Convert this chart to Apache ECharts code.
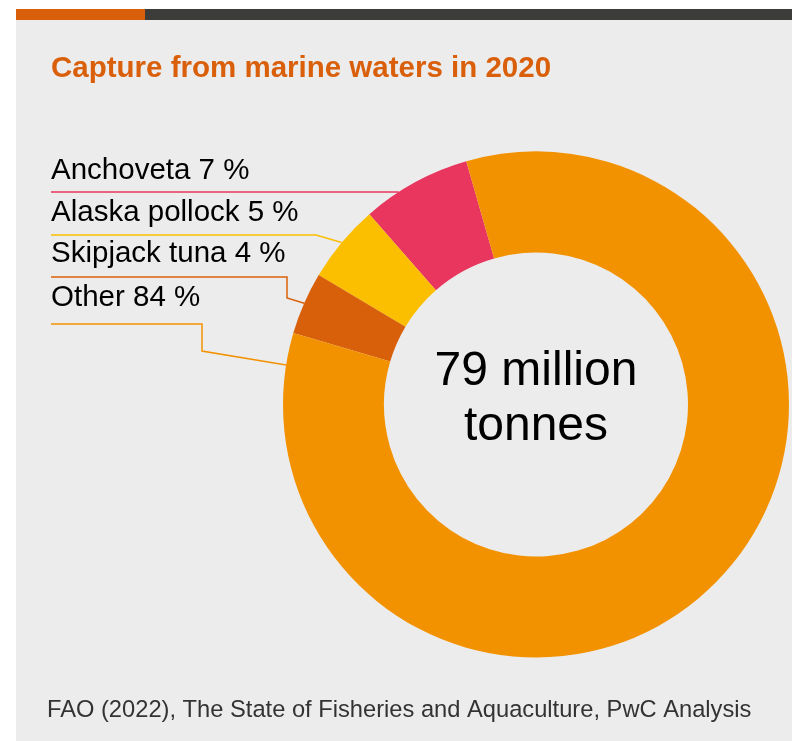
<!DOCTYPE html>
<html>
<head>
<meta charset="utf-8">
<script src="https://cdn.jsdelivr.net/npm/echarts@6/dist/echarts.min.js"></script>
<style>
html,body{margin:0;padding:0;background:#fff;}
#chart{width:792px;height:741px;}
</style>
</head>
<body>
<div id="chart"></div>
<script>
// ---- data ----
const categories = ['Anchoveta', 'Alaska pollock', 'Skipjack tuna', 'Other'];
const shares = [7, 5, 4, 84];
const titleText = 'Capture from marine waters in 2020';
const centerText = '79 million\ntonnes';
const sourceText = 'FAO (2022), The State of Fisheries and Aquaculture, PwC Analysis';

// ---- styles / layout ----
const sliceColors = ['#E8365E', '#FBBF00', '#D9600A', '#F39200'];
const FONT = '"Liberation Sans", Arial, Helvetica, sans-serif';
const cx = 536, cy = 404.5, rIn = 152, rOut = 253;
const startAngle = 106;
const labelX = 51;
const labelBaselines = [180, 222, 263, 307];
const underlineY = [192, 235, 277, 324];
const bends = [[], [[316, 235]], [[287, 277], [287, 298]], [[202, 324], [202, 351]]];
const endMode = ['rowY', 'mid', 'mid', 365]; // where the leader meets the ring

const total = shares.reduce((a, b) => a + b, 0);
function midAngle(i) {
  let acc = 0;
  for (let k = 0; k < i; k++) acc += shares[k];
  const a = startAngle + (acc + shares[i] / 2) / total * 360; // counter-clockwise
  return a * Math.PI / 180;
}
function ringPointAtY(y) {
  const dy = y - cy;
  const dx = Math.sqrt(Math.max(0, rOut * rOut - dy * dy));
  return [cx - dx, y];
}

const chart = echarts.init(document.getElementById('chart'), null, {renderer: 'canvas'});
const option = {
  animation: false,
  backgroundColor: '#ffffff',
  graphic: [
    {type: 'rect', z: -10, shape: {x: 16, y: 20, width: 776, height: 721}, style: {fill: '#ECECEC'}},
    {type: 'rect', z: -10, shape: {x: 16, y: 9, width: 129, height: 11}, style: {fill: '#D95F0A'}},
    {type: 'rect', z: -10, shape: {x: 145, y: 9, width: 647, height: 11}, style: {fill: '#3C3C3B'}},
    {type: 'text', z: 10, x: 51, y: 68.5, style: {text: titleText, font: 'bold 29.5px ' + FONT, fill: '#D95F0A', verticalAlign: 'middle', align: 'left'}},
    {type: 'text', z: 10, x: cx, y: 399, style: {text: centerText, font: '48px ' + FONT, fill: '#000', align: 'center', verticalAlign: 'middle', lineHeight: 55}},
    {type: 'text', z: 10, x: 47, y: 710.5, style: {text: sourceText, font: '23.7px ' + FONT, fill: '#333', align: 'left', verticalAlign: 'middle'}}
  ],
  series: [{
    type: 'pie',
    center: [cx, cy],
    radius: [rIn, rOut],
    startAngle: startAngle,
    clockwise: false,
    avoidLabelOverlap: false,
    silent: true,
    data: categories.map((c, i) => ({name: c, value: shares[i], itemStyle: {color: sliceColors[i]}})),
    label: {
      show: true,
      position: 'outside',
      formatter: p => p.name + ' ' + p.value + ' %',
      color: '#000',
      fontFamily: FONT,
      fontSize: 29.5
    },
    labelLine: {show: true, lineStyle: {width: 1.5}},
    labelLayout: function (p) {
      const i = p.dataIndex;
      const uy = underlineY[i];
      const pts = [[labelX, uy]].concat(bends[i]);
      let end;
      if (endMode[i] === 'rowY') end = ringPointAtY(uy);
      else if (endMode[i] === 'mid') {
        const a = midAngle(i);
        end = [cx + rOut * Math.cos(a), cy - rOut * Math.sin(a)];
      } else end = ringPointAtY(endMode[i]);
      pts.push(end);
      return {x: labelX, y: labelBaselines[i] - 9, align: 'left', verticalAlign: 'middle', labelLinePoints: pts};
    }
  }]
};
chart.setOption(option);
</script>
</body>
</html>
